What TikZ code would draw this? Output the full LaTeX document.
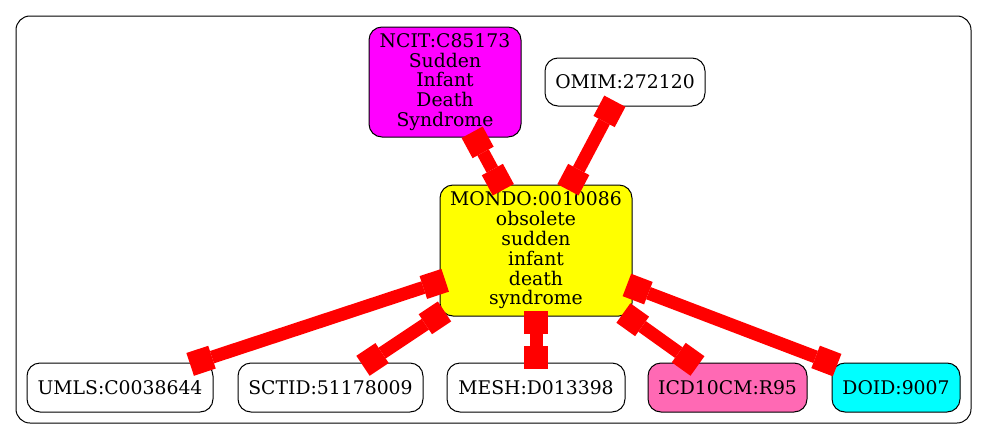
\documentclass[tikz,border=0pt]{standalone}
\usepackage{fontspec}
\setmainfont{DejaVu Serif}
\usetikzlibrary{arrows.meta}
\definecolor{hotpink}{HTML}{FF69B4}
\definecolor{gvmagenta}{HTML}{FF00FF}
\definecolor{gvyellow}{HTML}{FFFF00}
\definecolor{gvcyan}{HTML}{00FFFF}
\definecolor{gvred}{HTML}{FF0000}
\tikzset{
  term/.style={draw=black, line width=1pt, rounded corners=13pt, align=center,
    inner sep=0pt, font=\fontsize{18.8}{19.8}\selectfont, text=black},
  edge/.style={draw=gvred, line width=13pt,
    {Square[length=23pt,width=24pt,line width=0pt,color=gvred]}-{Square[length=23pt,width=24pt,line width=0pt,color=gvred]},
    shorten <=-6pt, shorten >=-6pt}
}
\begin{document}
\begin{tikzpicture}[x=1pt,y=-1pt]
\useasboundingbox (0,0) rectangle (987,439);
\draw[line width=1pt, rounded corners=14pt] (16,16) rectangle (971,423);
\node[term, fill=gvmagenta, minimum width=152pt, minimum height=110pt] (ncit) at (445,82) {NCIT:C85173\\Sudden\\Infant\\Death\\Syndrome};
\node[term, fill=white, minimum width=160pt, minimum height=48pt] (omim) at (625,82) {OMIM:272120};
\node[term, fill=gvyellow, minimum width=192pt, minimum height=131pt] (mondo) at (536,250.5) {MONDO:0010086\\obsolete\\sudden\\infant\\death\\syndrome};
\node[term, fill=white, minimum width=186pt, minimum height=49pt] (umls) at (120,387.5) {UMLS:C0038644};
\node[term, fill=white, minimum width=185pt, minimum height=49pt] (sctid) at (330.5,387.5) {SCTID:51178009};
\node[term, fill=white, minimum width=178pt, minimum height=49pt] (mesh) at (536,387.5) {MESH:D013398};
\node[term, fill=hotpink, minimum width=159pt, minimum height=49pt] (icd) at (727.5,387.5) {ICD10CM:R95};
\node[term, fill=gvcyan, minimum width=128pt, minimum height=49pt] (doid) at (896,387.5) {DOID:9007};
\draw[edge] (ncit) -- (mondo);
\draw[edge] (omim) -- (mondo);
\draw[edge] (mondo) -- (umls);
\draw[edge] (mondo) -- (sctid);
\draw[edge] (mondo) -- (mesh);
\draw[edge] (mondo) -- (icd);
\draw[edge] (mondo) -- (doid);
\end{tikzpicture}
\end{document}
